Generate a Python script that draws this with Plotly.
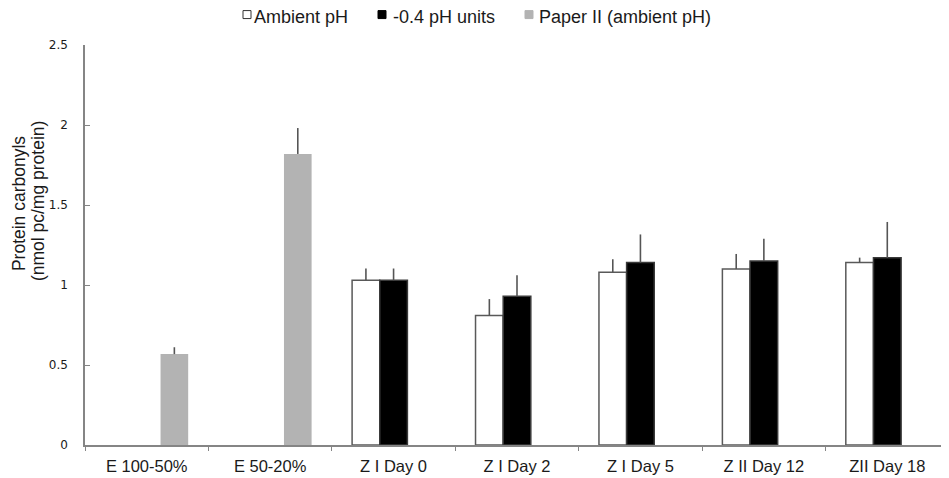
import plotly.graph_objects as go

# ---- data ----
categories = ["E 100-50%", "E 50-20%", "Z I Day 0", "Z I Day 2", "Z I Day 5", "Z II Day 12", "ZII Day 18"]
ambient_vals = [None, None, 1.03, 0.81, 1.08, 1.10, 1.14]
ambient_err = [0, 0, 0.073, 0.102, 0.081, 0.094, 0.031]
low_vals = [None, None, 1.03, 0.93, 1.14, 1.15, 1.17]
low_err = [0, 0, 0.073, 0.131, 0.176, 0.139, 0.224]
paper_vals = [0.568, 1.819, None, None, None, None, None]
paper_err = [0.043, 0.162, 0, 0, 0, 0, 0]
series_names = ["Ambient pH", "-0.4 pH units", "Paper II (ambient pH)"]
y_ticks = [0, 0.5, 1, 1.5, 2, 2.5]

# the page body has an 8px margin, so the figure is 8px smaller than the window
OFF = 8
W, H = 941, 470
ML, MR, MT, MB = 77, 0, 36.5, 32.5
PW = W - ML - MR
PH = H - MT - MB


def px2x(px):  # screen pixel -> paper x
    return (px - OFF - ML) / PW


def py2y(py):  # screen pixel -> paper y
    return (H - MB - (py - OFF)) / PH


ERR_COLOR = "#555555"
TEXT = "#1a1a1a"
AX = "#858585"
ARIAL = "Liberation Sans, Arial, Helvetica, sans-serif"
VERD = "DejaVu Sans, Verdana, sans-serif"

fills = ["#ffffff", "#000000", "#b3b3b3"]
edges = ["#595959", "#3a3a3a", "#b3b3b3"]
edge_w = [1.5, 1.5, 0]
vals = [ambient_vals, low_vals, paper_vals]
errs = [ambient_err, low_err, paper_err]

fig = go.Figure()
for name, v, e, fc, ec, ew in zip(series_names, vals, errs, fills, edges, edge_w):
    fig.add_trace(go.Bar(
        x=categories, y=v, name=name,
        marker=dict(color=fc, line=dict(color=ec, width=ew)),
        error_y=dict(type="data", symmetric=False, array=e, arrayminus=[0] * len(e),
                     color=ERR_COLOR, thickness=1.6, width=0),
    ))

fig.update_layout(
    width=W, height=H,
    margin=dict(l=ML, r=MR, t=MT, b=MB, pad=0),
    paper_bgcolor="white", plot_bgcolor="white",
    barmode="group", bargap=0.328, bargroupgap=0,
    showlegend=False,
    font=dict(family=ARIAL, color=TEXT),
)
fig.update_xaxes(
    range=[-0.5, 6.5], showline=True, linecolor=AX, linewidth=1.5,
    ticks="outside", tickson="boundaries", ticklen=4, tickwidth=1.2, tickcolor=AX,
    showgrid=False, zeroline=False, ticklabelstandoff=5,
    tickfont=dict(family=ARIAL, size=16.5, color=TEXT),
)
fig.update_yaxes(
    range=[0, 2.5], tickvals=y_ticks, showline=True, linecolor=AX, linewidth=1.5,
    ticks="inside", ticklen=5, tickwidth=1.2, tickcolor=AX,
    showgrid=False, zeroline=False, ticklabelstandoff=13,
    tickfont=dict(family=VERD, size=12, color=TEXT),
)

# y-axis title (two lines placed as in the reference)
fig.add_annotation(text="Protein carbonyls", textangle=-90, xref="paper", yref="paper",
                   x=px2x(18.5), y=py2y(203.5), xanchor="center", yanchor="middle",
                   borderpad=0, showarrow=False, font=dict(family=ARIAL, size=17.5, color=TEXT))
fig.add_annotation(text="(nmol pc/mg protein)", textangle=-90, xref="paper", yref="paper",
                   x=px2x(38), y=py2y(201), xanchor="center", yanchor="middle",
                   borderpad=0, showarrow=False, font=dict(family=ARIAL, size=17.5, color=TEXT))

# legend (square swatch directly against its label, as in the reference)
leg_sq = [(243, 251), (378, 386), (525, 533)]
leg_tx = [252, 391, 537]
for (x0, x1), tx, name, fc, ec in zip(leg_sq, leg_tx, series_names, fills, ["#333333", "#000000", "#b3b3b3"]):
    fig.add_shape(type="rect", xref="paper", yref="paper",
                  x0=px2x(x0), x1=px2x(x1), y0=py2y(18), y1=py2y(10),
                  fillcolor=fc, line=dict(color=ec, width=1))
    fig.add_annotation(text=name, xref="paper", yref="paper", x=px2x(tx), y=py2y(16.5),
                       xanchor="left", yanchor="middle", showarrow=False,
                       font=dict(family=ARIAL, size=18, color=TEXT))

fig.write_html("out.html")
